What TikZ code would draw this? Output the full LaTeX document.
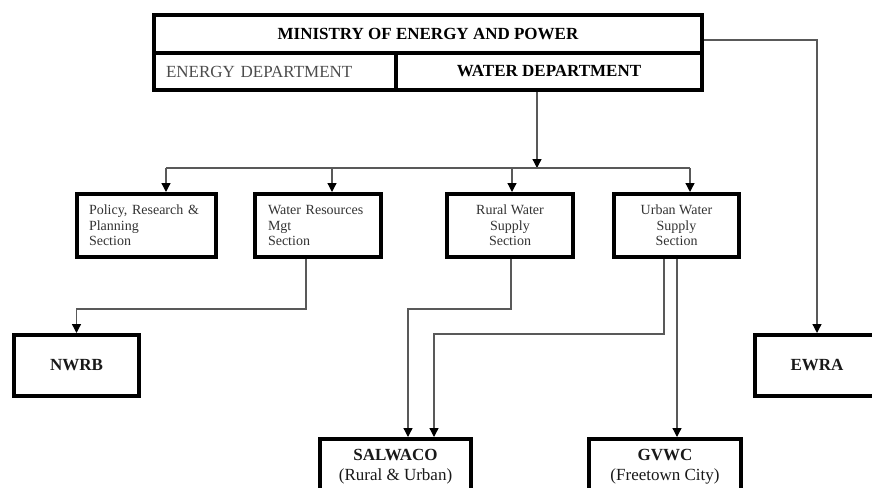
\documentclass[tikz,border=0pt]{standalone}
\usepackage{fontspec}
\setmainfont{Liberation Serif}
\usetikzlibrary{arrows.meta}
\begin{document}
\begin{tikzpicture}[x=1pt,y=-1pt,
 box/.style={draw=black, line width=4pt, fill=white, inner sep=0pt},
 sec/.style={box, minimum height=63pt, font=\fontsize{14}{15.5}\selectfont, text=black!80},
 org/.style={box, minimum height=61pt, font=\fontsize{17}{20}\selectfont\bfseries, text=black!90},
 conn/.style={draw=black!65, line width=1.3pt, -{Triangle[length=9pt,width=9pt,fill=black,color=black]}},
 line/.style={draw=black!65, line width=1.3pt}
]
\useasboundingbox (0,0) rectangle (872,487);
\clip (0,0) rectangle (872,487);
\fill[white] (0,0) rectangle (872,487);

% ministry block
\node[box, line width=3.5pt, minimum width=548pt, minimum height=38pt,
      font=\fontsize{17}{20}\selectfont\bfseries] (min) at (428,34) {MINISTRY OF ENERGY AND POWER};
\node[box, line width=3.5pt, minimum height=37pt, text width=218pt, inner xsep=12pt, align=left,
      font=\fontsize{17}{20}\selectfont, text=black!70] (ed) at (275,71.5) {ENERGY DEPARTMENT};
\node[box, line width=3.5pt, minimum width=306pt, minimum height=37pt,
      font=\fontsize{17}{20}\selectfont\bfseries] (wd) at (549,71.5) {WATER DEPARTMENT};

% sections
\node[sec, text width=115pt, inner xsep=12pt, align=left] (pol) at (146.5,225.5) {Policy, Research \&\\Planning\\Section};
\node[sec, text width=100pt, inner xsep=13pt, align=left] (wrm) at (318,225.5) {Water Resources\\Mgt\\Section};
\node[sec, minimum width=126pt, align=center] (rws) at (510,225.5) {Rural Water\\Supply\\Section};
\node[sec, minimum width=125pt, align=center] (uws) at (676.5,225.5) {Urban Water\\Supply\\Section};

% organisations
\node[org, minimum width=125pt] (nwrb) at (76.5,365.5) {NWRB};
\node[org, minimum width=124pt] (ewra) at (817,365.5) {EWRA};
\node[org, minimum width=151pt, minimum height=56pt, anchor=north, align=center] (sal) at (395.5,437)
  {SALWACO\\{\mdseries (Rural \& Urban)}};
\node[org, minimum width=152pt, minimum height=56pt, anchor=north, align=center] (gv) at (665,437)
  {GVWC\\{\mdseries (Freetown City)}};

% coordinates
\coordinate (bus) at (537,168);
\coordinate (b1) at (166,168);
\coordinate (b2) at (332,168);
\coordinate (b3) at (512,168);
\coordinate (b4) at (690,168);
\coordinate (w1) at (306,309);
\coordinate (e1) at (817,40);
\coordinate (r1) at (511,309);
\coordinate (r2) at (408,309);
\coordinate (u1) at (664,334);
\coordinate (u2) at (434,334);
\coordinate (u3) at (677,334);

% connectors
\draw[conn] (wd.south -| bus) -- (bus);
\draw[line] (b1) -- (b4);
\draw[conn] (b1) -- (b1 |- pol.north);
\draw[conn] (b2) -- (b2 |- wrm.north);
\draw[conn] (b3) -- (b3 |- rws.north);
\draw[conn] (b4) -- (b4 |- uws.north);
\draw[conn] (w1 |- wrm.south) -- (w1) -| (nwrb.north);
\draw[conn] (e1 -| min.east) -- (e1) -- (e1 |- ewra.north);
\draw[conn] (r1 |- rws.south) -- (r1) -- (r2) -- (r2 |- sal.north);
\draw[conn] (u1 |- uws.south) -- (u1) -- (u2) -- (u2 |- sal.north);
\draw[conn] (u3 |- uws.south) -- (u3 |- gv.north);
\end{tikzpicture}
\end{document}
